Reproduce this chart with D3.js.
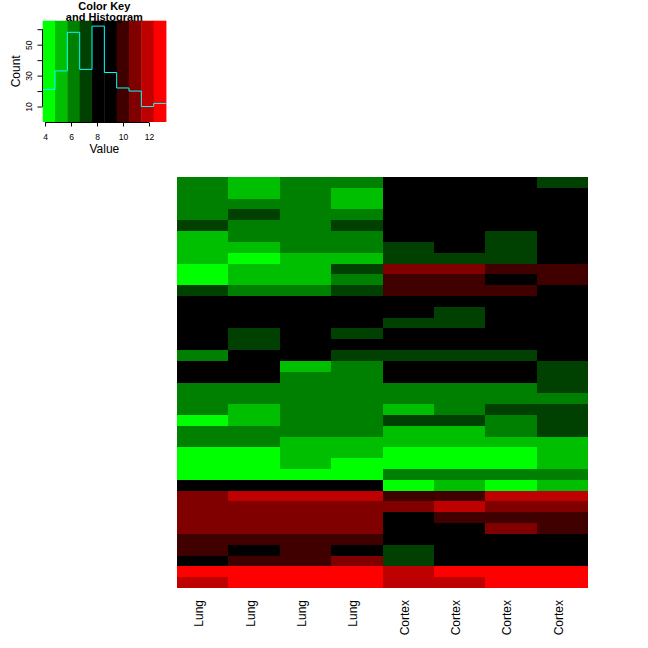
<!DOCTYPE html>
<html>
<head>
<meta charset="utf-8">
<script src="https://cdn.jsdelivr.net/npm/d3@7"></script>
<style>
  html, body { margin: 0; padding: 0; background: #fff; }
  svg { display: block; }
  text { font-family: "Liberation Sans", Arial, Helvetica, sans-serif; fill: #000; }
</style>
</head>
<body>
<svg id="chart" width="648" height="648"></svg>
<script>
// ---- data ----
const columns = ["Lung", "Lung", "Lung", "Lung", "Cortex", "Cortex", "Cortex", "Cortex"];

// expression values, one array per row (top to bottom)
const r00 = [6.2, 5.2, 6.2, 6.2, 8.1, 8.1, 8.1, 7.1];
const r01 = [6.2, 5.2, 6.2, 5.2, 8.1, 8.1, 8.1, 8.1];
const r02 = [6.2, 6.2, 6.2, 5.2, 8.1, 8.1, 8.1, 8.1];
const r03 = [6.2, 7.1, 6.2, 6.2, 8.1, 8.1, 8.1, 8.1];
const r04 = [7.1, 6.2, 6.2, 7.1, 8.1, 8.1, 8.1, 8.1];
const r05 = [5.2, 6.2, 6.2, 6.2, 8.1, 8.1, 7.1, 8.1];
const r06 = [5.2, 5.2, 6.2, 6.2, 7.1, 8.1, 7.1, 8.1];
const r07 = [5.2, 4.3, 5.2, 5.2, 7.1, 7.1, 7.1, 8.1];
const r08 = [4.3, 5.2, 5.2, 7.1, 10.9, 10.9, 10.0, 10.0];
const r09 = [4.3, 5.2, 5.2, 6.2, 10.0, 10.0, 8.1, 10.0];
const r10 = [7.1, 6.2, 6.2, 7.1, 10.0, 10.0, 10.0, 8.1];
const r11 = [8.1, 8.1, 8.1, 8.1, 8.1, 8.1, 8.1, 8.1];
const r12 = [8.1, 8.1, 8.1, 8.1, 8.1, 7.1, 8.1, 8.1];
const r13 = [8.1, 8.1, 8.1, 8.1, 7.1, 7.1, 8.1, 8.1];
const r14 = [8.1, 7.1, 8.1, 7.1, 8.1, 8.1, 8.1, 8.1];
const r15 = [8.1, 7.1, 8.1, 8.1, 8.1, 8.1, 8.1, 8.1];
const r16 = [6.2, 8.1, 8.1, 7.1, 7.1, 7.1, 7.1, 8.1];
const r17 = [8.1, 8.1, 5.2, 6.2, 8.1, 8.1, 8.1, 7.1];
const r18 = [8.1, 8.1, 6.2, 6.2, 8.1, 8.1, 8.1, 7.1];
const r19 = [6.2, 6.2, 6.2, 6.2, 6.2, 6.2, 6.2, 7.1];
const r20 = [6.2, 6.2, 6.2, 6.2, 6.2, 6.2, 6.2, 6.2];
const r21 = [6.2, 5.2, 6.2, 6.2, 5.2, 6.2, 7.1, 7.1];
const r22 = [4.3, 5.2, 6.2, 6.2, 7.1, 7.1, 6.2, 7.1];
const r23 = [6.2, 6.2, 6.2, 6.2, 5.2, 5.2, 6.2, 7.1];
const r24 = [6.2, 6.2, 5.2, 5.2, 5.2, 5.2, 5.2, 5.2];
const r25 = [4.3, 4.3, 5.2, 5.2, 4.3, 4.3, 4.3, 5.2];
const r26 = [4.3, 4.3, 5.2, 4.3, 4.3, 4.3, 4.3, 5.2];
const r27 = [4.3, 4.3, 4.3, 4.3, 6.2, 6.2, 6.2, 6.2];
const r28 = [8.1, 8.1, 8.1, 8.1, 4.3, 5.2, 4.3, 5.2];
const r29 = [10.9, 11.9, 11.9, 11.9, 10.0, 10.0, 11.9, 11.9];
const r30 = [10.9, 10.9, 10.9, 10.9, 10.9, 11.9, 10.9, 10.9];
const r31 = [10.9, 10.9, 10.9, 10.9, 8.1, 10.0, 10.0, 10.0];
const r32 = [10.9, 10.9, 10.9, 10.9, 8.1, 8.1, 10.9, 10.0];
const r33 = [10.0, 10.0, 10.0, 10.0, 8.1, 8.1, 8.1, 8.1];
const r34 = [10.0, 8.1, 10.0, 8.1, 7.1, 8.1, 8.1, 8.1];
const r35 = [8.1, 10.0, 10.0, 10.9, 7.1, 8.1, 8.1, 8.1];
const r36 = [12.8, 12.8, 12.8, 12.8, 11.9, 12.8, 12.8, 12.8];
const r37 = [11.9, 12.8, 12.8, 12.8, 11.9, 11.9, 12.8, 12.8];

const rows = [r00, r01, r02, r03, r04, r05, r06, r07, r08, r09,
              r10, r11, r12, r13, r14, r15, r16, r17, r18, r19,
              r20, r21, r22, r23, r24, r25, r26, r27, r28, r29,
              r30, r31, r32, r33, r34, r35, r36, r37];

// colour key
const keyColors = ["#00FF00", "#00BF00", "#008000", "#004000", "#000000",
                   "#000000", "#400000", "#800000", "#BF0000", "#FF0000"];
const keyBreaks = [3.82, 4.769, 5.718, 6.667, 7.616, 8.565, 9.514, 10.463, 11.412, 12.361, 13.31];
const histCounts = [21, 33, 58, 34, 62, 32, 22, 20, 10, 12];
const keyXTicks = [4, 6, 8, 10, 12];
const keyYTicks = [10, 20, 30, 40, 50, 60];
const keyYLabels = [10, 30, 50];
const keyTitle = ["Color Key", "and Histogram"];

// ---- drawing ----
const svg = d3.select("#chart");
const font = "'Liberation Sans', Arial, Helvetica, sans-serif";

const color = d3.scaleThreshold()
  .domain(keyBreaks.slice(1, -1))
  .range(keyColors);

// Heatmap
const hm = { left: 177, right: 588, top: 177, bottom: 588 };
const x = d3.scaleBand().domain(d3.range(columns.length)).range([hm.left, hm.right]);
const y = d3.scaleBand().domain(d3.range(rows.length)).range([hm.top, hm.bottom]);

const cells = [];
rows.forEach((row, ri) => row.forEach((v, ci) => cells.push({ ri, ci, v })));

svg.append("g").selectAll("rect")
  .data(cells)
  .join("rect")
  .attr("x", d => Math.round(x(d.ci)))
  .attr("y", d => Math.round(y(d.ri)))
  .attr("width", d => Math.round(x(d.ci) + x.bandwidth()) - Math.round(x(d.ci)))
  .attr("height", d => Math.round(y(d.ri) + y.bandwidth()) - Math.round(y(d.ri)))
  .attr("fill", d => color(d.v))
  .attr("shape-rendering", "crispEdges");

// column labels
svg.append("g").selectAll("text")
  .data(columns)
  .join("text")
  .attr("transform", (d, i) => `translate(${x(i) + x.bandwidth() / 2 + 0.5},600) rotate(-90)`)
  .attr("text-anchor", "end")
  .attr("font-size", 12)
  .attr("font-family", font)
  .text(d => d);

// Colour key
const key = { left: 42.7, right: 166, top: 20.7, bottom: 122 };
const kx = d3.scaleLinear().domain([keyBreaks[0], keyBreaks[keyBreaks.length - 1]]).range([key.left, key.right]);
const ky = d3.scaleLinear().domain([0, 65.5]).range([key.bottom, key.top]);

svg.append("g").selectAll("rect")
  .data(keyColors)
  .join("rect")
  .attr("x", (d, i) => kx(keyBreaks[i]))
  .attr("y", key.top)
  .attr("width", (d, i) => kx(keyBreaks[i + 1]) - kx(keyBreaks[i]) + 0.4)
  .attr("height", key.bottom - key.top)
  .attr("fill", d => d);

// histogram step line
const stepPts = [];
histCounts.forEach((c, i) => {
  stepPts.push([kx(keyBreaks[i]), ky(c)]);
  stepPts.push([kx(keyBreaks[i + 1]), ky(c)]);
});
svg.append("path")
  .attr("d", d3.line()(stepPts))
  .attr("fill", "none")
  .attr("stroke", "#00FFFF")
  .attr("stroke-width", 1);

// x axis of key
const xAxis = d3.axisBottom(kx).tickValues(keyXTicks).tickSize(4).tickSizeOuter(0).tickFormat(d3.format("d"));
const gx = svg.append("g").attr("transform", `translate(0,${key.bottom + 0.5})`).call(xAxis);
gx.select(".domain").attr("d", `M${kx(keyXTicks[0])},0H${kx(keyXTicks[keyXTicks.length - 1])}`);
gx.selectAll("text").attr("font-size", 8.5).attr("font-family", font).attr("dy", null).attr("y", 17.5);

// y axis of key
const yAxis = d3.axisLeft(ky).tickValues(keyYTicks).tickSize(5).tickSizeOuter(0)
  .tickFormat(d => keyYLabels.includes(d) ? d : "");
const gy = svg.append("g").attr("transform", `translate(${key.left - 0.2},0)`).call(yAxis);
gy.select(".domain").attr("d", `M0,${ky(keyYTicks[0])}V${ky(keyYTicks[keyYTicks.length - 1])}`);
gy.selectAll(".tick text")
  .attr("font-size", 8.5).attr("font-family", font)
  .attr("x", null).attr("dy", null)
  .attr("text-anchor", "middle")
  .attr("transform", "translate(-11,0) rotate(-90)");

// axis titles
svg.append("text")
  .attr("x", (key.left + key.right) / 2).attr("y", 153)
  .attr("text-anchor", "middle").attr("font-size", 12).attr("font-family", font)
  .text("Value");
svg.append("text")
  .attr("transform", `translate(20,${(key.top + key.bottom) / 2}) rotate(-90)`)
  .attr("text-anchor", "middle").attr("font-size", 12).attr("font-family", font)
  .text("Count");

// key title
svg.append("g").selectAll("text")
  .data(keyTitle)
  .join("text")
  .attr("x", (key.left + key.right) / 2)
  .attr("y", (d, i) => 9.6 + i * 11.5)
  .attr("text-anchor", "middle")
  .attr("font-size", 11)
  .attr("font-weight", "bold")
  .attr("font-family", font)
  .text(d => d);
</script>
</body>
</html>
